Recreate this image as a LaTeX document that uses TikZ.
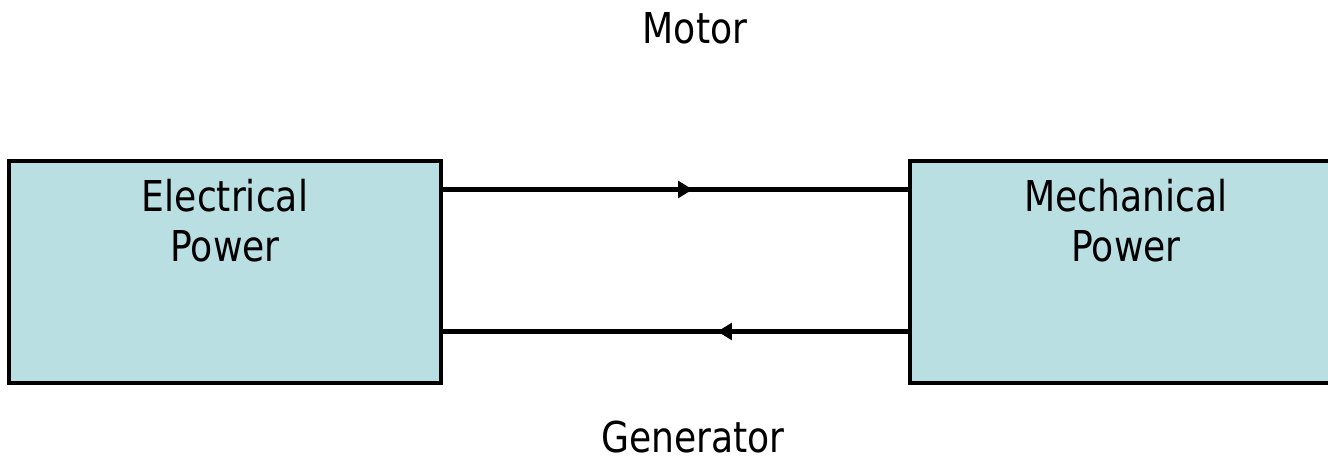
\documentclass[tikz,border=0pt]{standalone}
\usepackage{fontspec}
\setmainfont{DejaVu Sans}[FakeStretch=0.85]
\usetikzlibrary{arrows.meta, positioning, calc, decorations.markings}
\definecolor{powerfill}{RGB}{186,223,227}

\begin{document}
\begin{tikzpicture}[
    powerbox/.style={rectangle, draw=black, fill=powerfill, line width=2.3pt, minimum width=8.64cm, minimum height=4.43cm},
    boxtext/.style={inner sep=0pt, anchor=north, align=center, yshift=-0.39cm, font=\fontsize{24.2}{28.4}\selectfont},
    modetext/.style={inner sep=0pt, anchor=base, font=\fontsize{24.2}{28.4}\selectfont},
    flow/.style={line width=2.3pt, postaction={decorate}},
    midtip/.style={decoration={markings, mark=at position #1 with {\arrow{Triangle[length=0.29cm, width=0.33cm]}}}}
]
\useasboundingbox (0,0) rectangle (26.56,9.22);
\clip (0,0) rectangle (26.56,9.22);

% Power blocks
\node[powerbox, label={[boxtext, label distance=0pt]north:Electrical\\Power}] (elec) at (4.5,3.78) {};
\node[powerbox, label={[boxtext, label distance=0pt]north:Mechanical\\Power}] (mech) at (22.52,3.78) {};

% Modes
\node[modetext] (motor) at (13.9,8.34) {Motor};
\node[modetext] (gen) at (13.86,0.17) {Generator};

% Connections
\draw[flow, midtip=0.537] ([yshift=1.65cm]elec.east) -- ([yshift=1.65cm]elec.east -| mech.west);
\draw[flow, midtip=0.41] ([yshift=-1.19cm]mech.west) -- ([yshift=-1.19cm]mech.west -| elec.east);

\end{tikzpicture}
\end{document}
